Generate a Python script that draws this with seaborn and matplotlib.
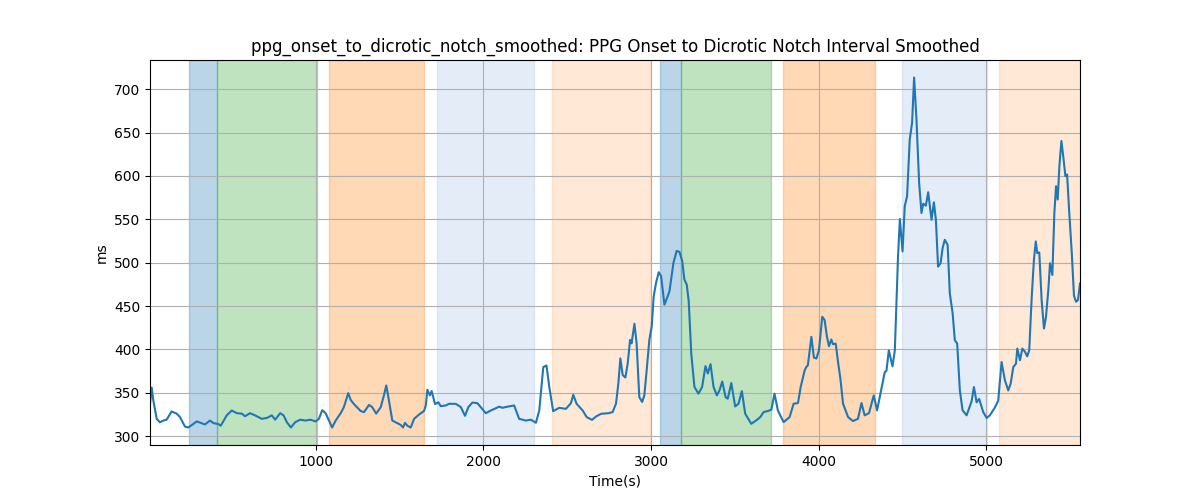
import matplotlib
matplotlib.use("Agg")
import matplotlib.pyplot as plt
import pandas as pd
import seaborn as sns

# ------------------------------------------------------------
# Data
# ------------------------------------------------------------
time_s = [
    10, 20, 30, 50, 69, 90, 109, 139, 169, 189, 219, 239, 289, 338, 368, 389,
    418, 432, 468, 498, 528, 558, 577, 607, 637, 677, 707, 737, 757, 787, 807,
    827, 851, 876, 906, 938, 968, 998, 1018, 1038, 1058, 1078, 1097, 1118,
    1148, 1167, 1193, 1207, 1227, 1267, 1287, 1317, 1336, 1360, 1387, 1406,
    1420, 1436, 1456, 1486, 1506, 1520, 1532, 1546, 1566, 1586, 1616, 1645,
    1656, 1665, 1680, 1691, 1711, 1731, 1745, 1775, 1795, 1835, 1865, 1890,
    1910, 1934, 1964, 2014, 2044, 2094, 2113, 2143, 2183, 2213, 2253, 2283,
    2313, 2333, 2357, 2376, 2393, 2416, 2452, 2492, 2522, 2536, 2556, 2592,
    2616, 2648, 2672, 2702, 2747, 2771, 2791, 2805, 2817, 2831, 2847, 2861,
    2875, 2884, 2901, 2914, 2930, 2947, 2960, 2974, 2990, 3004, 3016, 3030,
    3046, 3060, 3080, 3096, 3110, 3120, 3134, 3153, 3170, 3186, 3199, 3213,
    3225, 3240, 3259, 3283, 3305, 3325, 3339, 3355, 3373, 3393, 3409, 3425,
    3445, 3458, 3479, 3502, 3522, 3542, 3562, 3598, 3628, 3652, 3672, 3697,
    3718, 3737, 3757, 3791, 3827, 3851, 3877, 3893, 3917, 3927, 3936, 3957,
    3972, 3987, 4002, 4022, 4036, 4050, 4062, 4076, 4086, 4102, 4116, 4130,
    4146, 4176, 4205, 4235, 4256, 4275, 4301, 4329, 4349, 4375, 4395, 4405,
    4419, 4441, 4455, 4474, 4485, 4501, 4514, 4528, 4544, 4558, 4570, 4584,
    4600, 4614, 4624, 4640, 4654, 4674, 4688, 4700, 4713, 4728, 4740, 4753,
    4770, 4783, 4800, 4813, 4827, 4843, 4859, 4883, 4913, 4927, 4943, 4958,
    4982, 5003, 5022, 5052, 5072, 5092, 5112, 5132, 5146, 5162, 5178, 5186,
    5202, 5216, 5232, 5245, 5257, 5272, 5285, 5296, 5305, 5317, 5331, 5345,
    5357, 5371, 5381, 5395, 5407, 5417, 5427, 5437, 5449, 5461, 5473, 5483,
    5496, 5511, 5524, 5536, 5548, 5560,
]
interval_ms = [
    337, 356, 341, 320, 316, 318, 319, 328.5, 326, 322, 311, 310, 317, 313.5,
    318, 315, 314, 312, 324, 329.6, 326.5, 326, 323, 326.5, 324, 320, 321,
    324, 319, 326.5, 324, 316, 310, 316, 319, 318, 319, 317, 320, 330, 326.5,
    318, 310, 318, 326.5, 333.5, 349.6, 342, 337, 329, 327.7, 336, 333.5, 326,
    333.5, 347, 358.5, 341, 318, 315, 313, 310, 315.4, 312, 310, 320, 325,
    329, 335.4, 353.5, 347, 352, 337, 339, 334.6, 335.4, 337.3, 337.3, 333.5,
    323.5, 333.5, 338.8, 338, 326.5, 329.6, 334, 332.7, 334, 335.4, 320, 318,
    319, 315.4, 329.6, 379.6, 381.5, 356.5, 328.8, 332.7, 331.5, 338, 347.7,
    337.3, 329.6, 322, 318.8, 322.7, 325.8, 326.5, 327.8, 337.5, 360.7, 389.7,
    370.4, 367.6, 384, 411, 407, 429.6, 407, 345, 339.4, 347, 376, 411, 426.5,
    461.3, 476.8, 489, 484.5, 451.6, 459.4, 467, 480.6, 500, 513.5, 512.4,
    502, 480.6, 474.8, 455.5, 395.5, 356.8, 349, 356.8, 380.8, 372.3, 383,
    356.8, 347, 353, 363, 345, 343.2, 361.3, 334.3, 337.4, 352, 325.9, 314.3,
    318.2, 322, 327.8, 329, 330.5, 349, 329.7, 316.2, 322, 337.4, 338.2,
    356.7, 376, 379.8, 381.8, 414.5, 390.6, 389.5, 399, 437.7, 433.8, 414.5,
    403.7, 411.5, 406, 406.8, 385.6, 366.3, 337.4, 322, 317.4, 320, 338.2,
    324, 326.6, 347, 329.7, 354.7, 374, 375.2, 399, 380.5, 399, 507, 550.3,
    513, 565, 576.5, 642, 661.4, 713.5, 665.3, 592, 557.3, 568, 565.7, 581.2,
    549.5, 569.6, 549.5, 495.5, 499.4, 516.7, 526.4, 520.6, 464.7, 441.5,
    410.6, 406.8, 352.8, 330, 324, 340, 356.6, 339, 343, 328, 321, 324, 333,
    341, 385.5, 364.3, 352.7, 360.4, 379.7, 383.6, 401, 387.5, 401, 397.1,
    392.1, 399, 460.8, 503.3, 524.5, 511, 511.8, 457, 424.1, 437.6, 468.5,
    499.4, 485.9, 557.3, 588.2, 572.8, 611.4, 640.3, 621, 599.8, 601.7, 557.3,
    511, 462, 455, 457, 476,
]

# shaded protocol segments (start, end, kind)
seg_start = [241, 408, 1078, 1723, 2411, 3056, 3176, 3785, 4496, 5076]
seg_end = [408, 1006, 1646, 2303, 2996, 3176, 3714, 4335, 5005, 5560]
seg_kind = ["a", "b", "c", "d", "e", "a", "b", "c", "d", "e"]

KIND_STYLE = {
    "a": ("tab:blue", 0.3),
    "b": ("tab:green", 0.3),
    "c": ("tab:orange", 0.3),
    "d": ("#aec7e8", 0.33),
    "e": ("tab:orange", 0.17),
}

df = pd.DataFrame({"t": time_s, "ms": interval_ms})

# ------------------------------------------------------------
# Plot
# ------------------------------------------------------------
fig, ax = plt.subplots(figsize=(12, 5), dpi=100)

for s, e, k in zip(seg_start, seg_end, seg_kind):
    color, alpha = KIND_STYLE[k]
    ax.axvspan(s, e, color=color, alpha=alpha)

sns.lineplot(data=df, x="t", y="ms", ax=ax, color="tab:blue", linewidth=1.5)

ax.set_xlim(df["t"].min(), df["t"].max())
ax.grid(True)
ax.set_title("ppg_onset_to_dicrotic_notch_smoothed: PPG Onset to Dicrotic Notch Interval Smoothed")
ax.set_xlabel("Time(s)")
ax.set_ylabel("ms")

fig.savefig("out.png", dpi=100)
